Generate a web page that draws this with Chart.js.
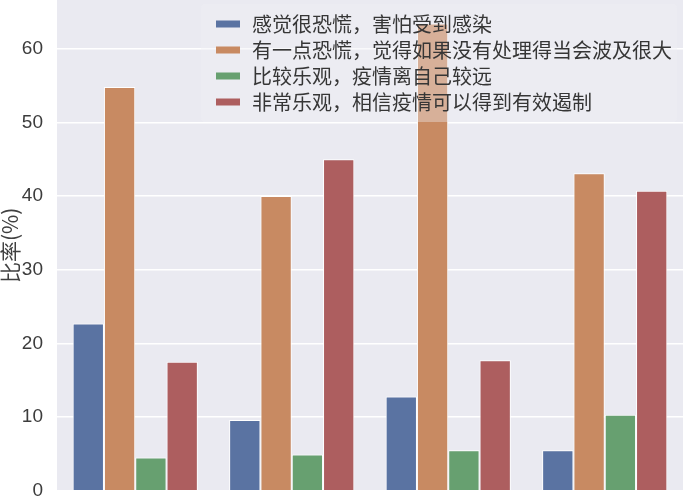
<!DOCTYPE html>
<html>
<head>
<meta charset="utf-8">
<script src="https://cdn.jsdelivr.net/npm/chart.js@4.4.1/dist/chart.umd.min.js"></script>
<style>
  html, body { margin: 0; padding: 0; background: #fff; }
  #wrap { width: 700px; height: 500px; }
</style>
</head>
<body>
<div id="wrap"><canvas id="barChart" width="700" height="500"></canvas></div>
<script>
const categories = ["组1", "组2", "组3", "组4"];
const seriesNames = [
  "感觉很恐慌，害怕受到感染",
  "有一点恐慌，觉得如果没有处理得当会波及很大",
  "比较乐观，疫情离自己较远",
  "非常乐观，相信疫情可以得到有效遏制"
];
const panicked = [22.7, 9.6, 12.8, 5.5];
const somewhatPanicked = [54.8, 40.0, 63.4, 43.1];
const optimistic = [4.5, 4.9, 5.5, 10.3];
const veryOptimistic = [17.5, 45.0, 17.7, 40.7];
const yTicks = [0, 10, 20, 30, 40, 50, 60];
const colors = ["#5a73a2", "#c88a62", "#67a070", "#ad5e5f"];

const seriesValues = [panicked, somewhatPanicked, optimistic, veryOptimistic];

// plot background + legend drawn on top of bars (matplotlib style)
const seabornLook = {
  id: "seabornLook",
  beforeDraw(chart) {
    const { ctx, chartArea: a } = chart;
    ctx.save();
    ctx.fillStyle = "#eaeaf1";
    ctx.fillRect(a.left, a.top, a.right - a.left, a.bottom - a.top);
    ctx.restore();
  },
  afterDraw(chart) {
    const { ctx, chartArea: a } = chart;
    const sets = chart.data.datasets;
    const rowH = 26, padX = 15, padY = 7, handleW = 24, handleH = 7, gap = 12;
    ctx.save();
    ctx.font = '20px "Noto Sans CJK SC"';
    const textW = Math.max(...sets.map(d => ctx.measureText(d.label).width));
    const boxW = padX + handleW + gap + textW + 5;
    const boxH = padY * 2 + rowH * sets.length;
    const x0 = a.right - 6 - boxW;
    const y0 = a.top + 4;
    ctx.fillStyle = "rgba(238,238,244,0.38)";
    ctx.beginPath();
    ctx.roundRect(x0, y0, boxW, boxH, 4);
    ctx.fill();
    ctx.textBaseline = "middle";
    sets.forEach((d, i) => {
      const cy = y0 + padY + rowH * i + rowH / 2;
      ctx.fillStyle = d.backgroundColor;
      ctx.fillRect(x0 + padX, cy - handleH / 2, handleW, handleH);
      ctx.fillStyle = "#363636";
      ctx.fillText(d.label, x0 + padX + handleW + gap, cy);
    });
    ctx.restore();
  }
};

new Chart(document.getElementById("barChart").getContext("2d"), {
  type: "bar",
  data: {
    labels: categories,
    datasets: seriesNames.map((name, i) => ({
      label: name,
      data: seriesValues[i],
      backgroundColor: colors[i],
      borderColor: "#ffffff",
      borderWidth: 1,
      categoryPercentage: 0.8,
      barPercentage: 1.0
    }))
  },
  options: {
    responsive: false,
    animation: false,
    devicePixelRatio: 1,
    layout: { autoPadding: false, padding: { left: 0, right: 17, top: 0, bottom: 0 } },
    plugins: {
      legend: { display: false },
      tooltip: { enabled: false }
    },
    scales: {
      x: {
        grid: { display: false },
        border: { display: false },
        ticks: { display: false },
        afterFit(scale) { scale.height = 9.3; }
      },
      y: {
        min: 0,
        max: 66.6,
        afterBuildTicks(scale) {
          scale.ticks = yTicks.map(v => ({ value: v }));
        },
        afterFit(scale) {
          scale.width = 57;
          // plot fills the whole height, labels may run past the edge
          scale.paddingTop = 0;
          scale.paddingBottom = 0;
        },
        grid: { color: "#ffffff", lineWidth: 1.6, drawTicks: false },
        border: { display: false },
        ticks: {
          padding: 14,
          color: "#3c3c3c",
          font: { family: "'Liberation Sans Narrow', 'Liberation Sans'", size: 19, lineHeight: 1 }
        },
        title: {
          display: true,
          text: "比率(%)",
          color: "#404040",
          padding: { top: 0, bottom: 0 },
          font: { family: "Noto Sans CJK SC", size: 21, lineHeight: 1 }
        }
      }
    }
  },
  plugins: [seabornLook]
});
</script>
</body>
</html>
